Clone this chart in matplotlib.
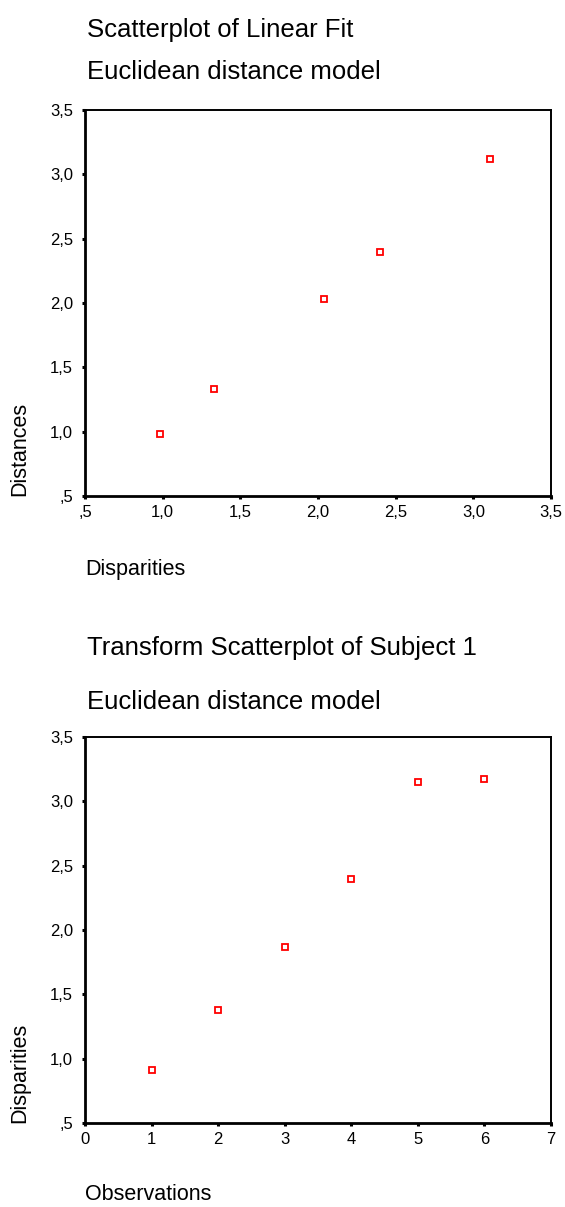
import matplotlib.pyplot as plt
import numpy as np

plt.rcParams['font.family'] = ['Liberation Sans', 'DejaVu Sans']

# top chart: linear fit
disparities = [0.98, 1.33, 2.04, 2.40, 3.11]
distances = [0.98, 1.33, 2.03, 2.40, 3.12]

# bottom chart: transform scatterplot
observations = [1, 2, 3, 4, 5, 6]
subject1_disp = [0.91, 1.38, 1.87, 2.40, 3.15, 3.17]

ticks_half = [0.5, 1.0, 1.5, 2.0, 2.5, 3.0, 3.5]
ticks_half_labels = [',5', '1,0', '1,5', '2,0', '2,5', '3,0', '3,5']
ticks_obs = [0, 1, 2, 3, 4, 5, 6, 7]

W, H = 565, 1207
fig = plt.figure(figsize=(W / 100, H / 100), dpi=100)


def px_axes(left, top, right, bottom):
    return fig.add_axes([left / W, 1 - bottom / H, (right - left) / W, (bottom - top) / H])


def px_text(x, y, s, **kw):
    fig.text(x / W, 1 - y / H, s, **kw)


def style(ax):
    for sp in ax.spines.values():
        sp.set_linewidth(1.4)
    ax.spines['bottom'].set_linewidth(2.0)
    ax.spines['left'].set_linewidth(2.0)
    ax.tick_params(direction='out', length=2.5, width=2.2, labelsize=12)
    ax.tick_params(axis='y', pad=6)
    ax.tick_params(axis='x', pad=4)
    ax.set_yticks(ticks_half)
    ax.set_yticklabels(ticks_half_labels)
    ax.set_ylim(0.5, 3.5)


# top plot
ax1 = px_axes(85, 110, 551, 496)
ax1.plot(disparities, distances, 's', ms=5, mfc='white', mec='red', mew=1.3, ls='none')
ax1.set_xlim(0.5, 3.5)
ax1.set_xticks(ticks_half)
ax1.set_xticklabels(ticks_half_labels)
style(ax1)

px_text(87, 30, 'Scatterplot of Linear Fit', fontsize=18.5, va='center')
px_text(87, 72, 'Euclidean distance model', fontsize=18.5, va='center')
px_text(20, 496, 'Distances', fontsize=15.5, rotation=90, va='bottom', ha='center')
px_text(85, 570, 'Disparities', fontsize=15.5, va='center')

# bottom plot
ax2 = px_axes(85, 737, 551, 1123)
ax2.plot(observations, subject1_disp, 's', ms=5, mfc='white', mec='red', mew=1.3, ls='none')
ax2.set_xlim(0, 7)
ax2.set_xticks(ticks_obs)
style(ax2)

px_text(87, 648, 'Transform Scatterplot of Subject 1', fontsize=18.5, va='center')
px_text(87, 702, 'Euclidean distance model', fontsize=18.5, va='center')
px_text(20, 1123, 'Disparities', fontsize=15.5, rotation=90, va='bottom', ha='center')
px_text(85, 1194, 'Observations', fontsize=15.5, va='center')

fig.savefig('out.png', dpi=100)
